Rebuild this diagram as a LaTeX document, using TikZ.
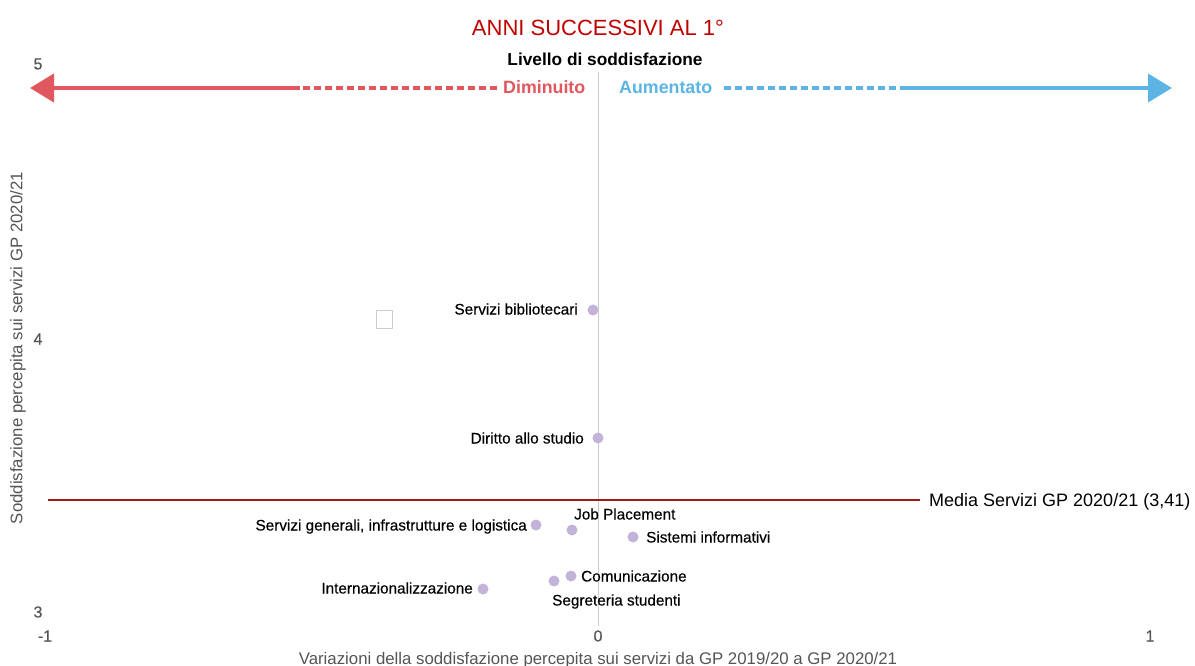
\documentclass[tikz,border=0pt]{standalone}
\usepackage{fontspec}
\setmainfont{Liberation Sans}
\newfontfamily\medfont[FakeBold=0.35]{Liberation Sans}
\usetikzlibrary{arrows.meta}
\definecolor{titlered}{HTML}{C00000}
\definecolor{arrred}{HTML}{E0585E}
\definecolor{arrblue}{HTML}{5CB4E4}
\definecolor{medred}{HTML}{A31818}
\definecolor{ptcol}{HTML}{C3B3D9}
\definecolor{axgray}{HTML}{555555}
\definecolor{gridgray}{HTML}{CCCCCC}
\tikzset{
  pt/.style={circle,fill=ptcol,minimum size=11pt,inner sep=0pt},
  lbl/.style={inner sep=0pt,font=\medfont\fontsize{15.3}{17}\selectfont},
  ticklbl/.style={inner sep=0pt,text=axgray,font=\medfont\fontsize{16}{18}\selectfont},
  axtitle/.style={inner sep=0pt,text=axgray,font=\fontsize{16.8}{19}\selectfont},
  bigarrow/.style={line width=4pt,-{Triangle[length=24pt,width=28pt]}},
  dashseg/.style={line width=4pt,dash pattern=on 7pt off 4pt},
}
\begin{document}
\begin{tikzpicture}[x=1pt,y=-1pt]
\useasboundingbox[fill=white] (0,0) rectangle (1195,666);
% title
\node[inner sep=0pt,anchor=base,text=titlered,font=\fontsize{22}{26}\selectfont] (title) at (598,35.5) {ANNI SUCCESSIVI AL 1°};
\node[inner sep=0pt,anchor=base,font=\bfseries\fontsize{17.3}{20}\selectfont] (livello) at (605,66) {Livello di soddisfazione};
% vertical zero line
\coordinate (vtop) at (598,72);
\coordinate (vbot) at (598,626);
\draw[gridgray,line width=1pt] (vtop) -- (vbot);
% arrows
\coordinate (ltip) at (30,88);
\coordinate (lmid) at (300,88);
\coordinate (lstart) at (497,88);
\draw[arrred,dashseg] (lstart) -- (lmid);
\draw[arrred,bigarrow] (lmid) -- (ltip);
\node[inner sep=0pt,anchor=base west,text=arrred,font=\bfseries\fontsize{17.8}{20}\selectfont] (dim) at (503,94) {Diminuito};
\coordinate (rstart) at (724,88);
\coordinate (rmid) at (905,88);
\coordinate (rtip) at (1172,88);
\draw[arrblue,dashseg] (rstart) -- (rmid);
\draw[arrblue,bigarrow] (rmid) -- (rtip);
\node[inner sep=0pt,anchor=base west,text=arrblue,font=\bfseries\fontsize{17.8}{20}\selectfont] (aum) at (619,94) {Aumentato};
% ticks
\node[ticklbl] (y5) at (38,64) {5};
\node[ticklbl] (y4) at (38,339) {4};
\node[ticklbl] (y3) at (38,612) {3};
\node[ticklbl] (xm1) at (45,636) {-1};
\node[ticklbl] (x0) at (598,636) {0};
\node[ticklbl] (x1) at (1150,636) {1};
% axis titles
\node[axtitle] (xtitle) at (598,660) {Variazioni della soddisfazione percepita sui servizi da GP 2019/20 a GP 2020/21};
\node[axtitle,rotate=90] (ytitle) at (18,348) {Soddisfazione percepita sui servizi GP 2020/21};
% media line
\coordinate (mleft) at (48,500);
\coordinate (mright) at (920,500);
\draw[medred,line width=1.5pt] (mleft) -- (mright);
\node[inner sep=0pt,anchor=base west,font=\fontsize{18}{20}\selectfont] (media) at (929,506.5) {Media Servizi GP 2020/21 (3,41)};
% small square
\draw[gridgray,fill=white,line width=1pt] (376,310) rectangle (392,328);
% points
\node[pt] (bib) at (593,310) {};
\node[pt] (dir) at (598,438) {};
\node[pt] (gen) at (536,525) {};
\node[pt] (job) at (572,530) {};
\node[pt] (sis) at (633,537) {};
\node[pt] (com) at (571,576) {};
\node[pt] (seg) at (554,581) {};
\node[pt] (int) at (483,589) {};
% labels
\node[lbl,anchor=base east] (bibl) at (578,314.5) {Servizi bibliotecari};
\node[lbl,anchor=base east] (dirl) at (584,443.5) {Diritto allo studio};
\node[lbl,anchor=base east] (genl) at (527,530.5) {Servizi generali, infrastrutture e logistica};
\node[lbl,anchor=base west] (jobl) at (574,519.5) {Job Placement};
\node[lbl,anchor=base west] (sisl) at (646,542.5) {Sistemi informativi};
\node[lbl,anchor=base west] (coml) at (581,581.5) {Comunicazione};
\node[lbl,anchor=base west] (segl) at (552,605.5) {Segreteria studenti};
\node[lbl,anchor=base east] (intl) at (473,593.5) {Internazionalizzazione};
\end{tikzpicture}
\end{document}
